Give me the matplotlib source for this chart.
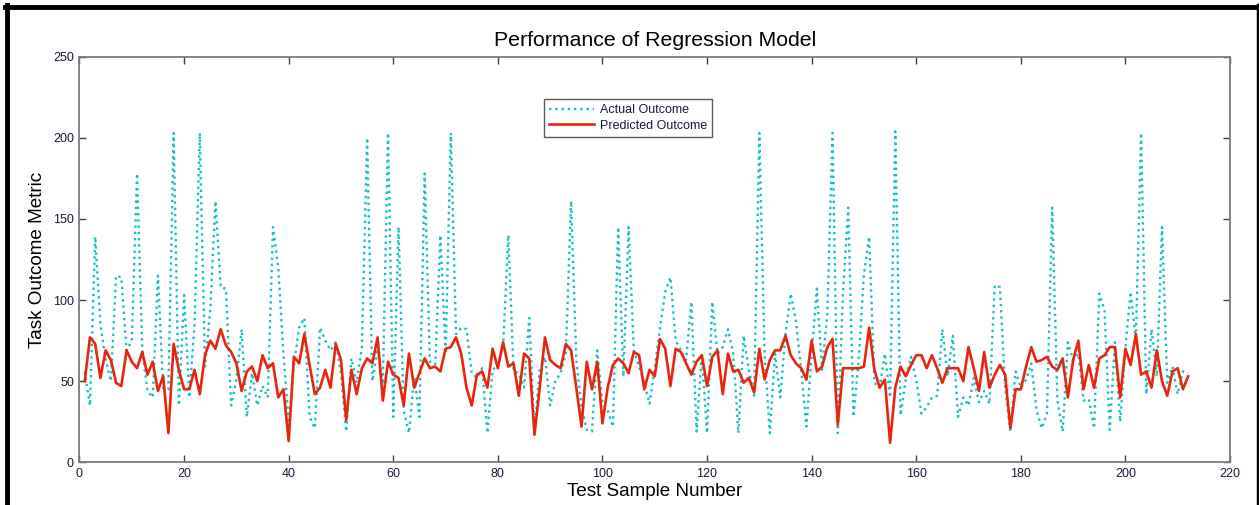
import matplotlib
matplotlib.use("Agg")
import matplotlib.pyplot as plt
import numpy as np

plt.rcParams['font.family'] = ['Liberation Sans', 'DejaVu Sans']

actual = [56, 35, 139, 85, 63, 50, 115, 114, 69, 75,
          178, 69, 44, 40, 115, 46, 45, 203, 35, 103,
          40, 85, 203, 59, 94, 161, 108, 107, 35, 51,
          82, 28, 55, 35, 47, 40, 145, 120, 67, 24,
          60, 83, 89, 28, 21, 83, 75, 69, 74, 55,
          19, 64, 49, 71, 200, 50, 70, 48, 203, 28,
          145, 32, 18, 53, 28, 178, 62, 58, 140, 67,
          203, 79, 83, 82, 55, 52, 58, 18, 57, 60,
          72, 140, 56, 55, 46, 89, 19, 57, 65, 35,
          50, 55, 67, 161, 63, 34, 20, 19, 69, 36,
          32, 22, 145, 53, 145, 69, 59, 49, 36, 58,
          83, 105, 114, 75, 69, 63, 99, 19, 67, 18,
          99, 67, 71, 82, 67, 18, 78, 57, 41, 203,
          67, 18, 67, 40, 79, 104, 87, 57, 22, 67,
          107, 57, 92, 203, 18, 105, 157, 28, 63, 116,
          139, 49, 46, 67, 40, 204, 29, 51, 65, 51,
          30, 34, 40, 41, 82, 53, 78, 28, 40, 35,
          52, 37, 44, 36, 109, 108, 46, 19, 56, 46,
          51, 61, 32, 21, 30, 157, 38, 19, 74, 63,
          67, 38, 39, 21, 104, 94, 20, 74, 25, 71,
          105, 75, 203, 42, 82, 53, 145, 49, 59, 42,
          56, 55]

predicted = [50, 77, 73, 52, 69, 63, 49, 47, 69, 62,
             58, 68, 54, 62, 44, 53, 18, 73, 57, 45,
             45, 57, 42, 66, 75, 70, 82, 72, 68, 61,
             44, 56, 59, 50, 66, 58, 61, 40, 45, 13,
             65, 61, 79, 60, 42, 46, 57, 46, 73, 63,
             26, 57, 42, 58, 64, 61, 77, 38, 62, 54,
             52, 35, 67, 46, 55, 64, 58, 59, 56, 70,
             71, 77, 67, 46, 35, 54, 56, 46, 70, 58,
             74, 59, 61, 41, 67, 64, 17, 46, 77, 63,
             60, 58, 73, 69, 46, 22, 62, 45, 62, 24,
             46, 60, 64, 61, 55, 68, 66, 45, 57, 53,
             76, 70, 47, 70, 68, 61, 54, 62, 66, 47,
             65, 69, 42, 67, 56, 57, 49, 52, 43, 70,
             51, 63, 69, 69, 78, 66, 61, 58, 51, 75,
             56, 59, 71, 76, 23, 58, 58, 58, 58, 59,
             83, 57, 46, 51, 12, 46, 59, 53, 60, 66,
             66, 58, 66, 58, 49, 58, 58, 58, 50, 71,
             58, 44, 68, 46, 54, 60, 54, 21, 45, 45,
             59, 71, 62, 63, 65, 59, 57, 64, 40, 63,
             75, 45, 60, 46, 64, 66, 71, 71, 40, 70,
             60, 79, 54, 56, 46, 69, 50, 41, 56, 58,
             45, 53]

sample_no = np.arange(1, len(actual) + 1)

xticks = [0, 20, 40, 60, 80, 100, 120, 140, 160, 180, 200, 220]
yticks = [0, 50, 100, 150, 200, 250]

W, H = 1259, 505
fig = plt.figure(figsize=(W / 100, H / 100), dpi=100)
fig.patch.set_facecolor('white')

# outer black frame (screenshot border)
fig.add_artist(plt.Line2D([7 / W, 7 / W], [0, 1 - 5 / H], color='black', lw=3.5,
                          transform=fig.transFigure))
fig.add_artist(plt.Line2D([5 / W, 1], [1 - 7 / H, 1 - 7 / H], color='black', lw=3.5,
                          transform=fig.transFigure))
fig.add_artist(plt.Line2D([1 - 1.5 / W, 1 - 1.5 / W], [0, 1 - 5 / H], color='black', lw=2.5,
                          transform=fig.transFigure))

left, right, top, bottom = 79.5, 1230, 56.7, 462.3
ax = fig.add_axes([left / W, 1 - bottom / H, (right - left) / W, (bottom - top) / H])

text_col = '#1a1a3a'
ax.plot(sample_no, actual, linestyle=':', color='#14C0C0', lw=1.7, label='Actual Outcome')
ax.plot(sample_no, predicted, linestyle='-', color='#E8250F', lw=1.9, label='Predicted Outcome')

ax.set_xlim(0, 220)
ax.set_ylim(0, 250)
ax.set_xticks(xticks)
ax.set_yticks(yticks)
ax.tick_params(direction='in', length=5, width=1, colors='#404040', labelcolor=text_col,
               labelsize=9, top=True, right=True, pad=4)
for s in ax.spines.values():
    s.set_color('#7a7a7a')
    s.set_linewidth(1.3)

ax.set_title('Performance of Regression Model', fontsize=15.3, color='black', pad=8)
ax.set_xlabel('Test Sample Number', fontsize=13.6, color='black', labelpad=2)
ax.set_ylabel('Task Outcome Metric', fontsize=13.6, color='black', labelpad=5)

leg = ax.legend(loc='upper left', bbox_to_anchor=((544 - left) / (right - left), 1 - (99 - top) / (bottom - top)),
                fontsize=9, frameon=True, fancybox=False, edgecolor='#303030',
                borderpad=0.4, handlelength=3.6, handletextpad=0.5, labelspacing=0.3,
                borderaxespad=0)
leg.get_frame().set_linewidth(1.0)
for t in leg.get_texts():
    t.set_color(text_col)

fig.savefig('out.png', dpi=100)
